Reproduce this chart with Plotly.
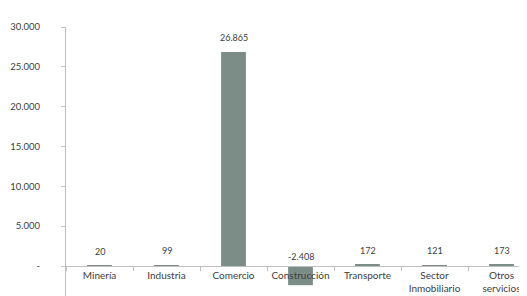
import plotly.graph_objects as go

categories = ["Minería", "Industria", "Comercio", "Construcción", "Transporte", "Sector<br>Inmobiliario", "Otros<br>servicios"]
values = [20, 99, 26865, -2408, 172, 121, 173]
value_labels = ["20", "99", "26.865", "-2.408", "172", "121", "173"]
y_tickvals = [-5000, 0, 5000, 10000, 15000, 20000, 25000, 30000]
y_ticktext = ["-5.000", "-", "5.000", "10.000", "15.000", "20.000", "25.000", "30.000"]

FONT = "Lato, Open Sans, sans-serif"
ymin, ymax = -4770, 30000
zero_pos = (0 - ymin) / (ymax - ymin)

fig = go.Figure()
fig.add_trace(go.Bar(x=categories, y=values, marker_color="#7b8d86",
                     marker_line_width=0, width=0.37))

for c, v, t in zip(categories, values, value_labels):
    fig.add_annotation(x=c, y=max(v, 0), text=t, showarrow=False,
                       yanchor="bottom", yshift=7 if v >= 0 else 2,
                       font=dict(family=FONT, size=9, color="#404040"))

fig.update_layout(
    width=527, height=296,
    margin=dict(l=58, r=0, t=19, b=0),
    paper_bgcolor="white", plot_bgcolor="white",
    showlegend=False,
    font=dict(family=FONT, size=9, color="#404040"),
    xaxis=dict(anchor="free", position=zero_pos, showline=True,
               linecolor="#bfbfbf", linewidth=1, ticks="outside",
               tickson="boundaries", ticklen=4, tickcolor="#bfbfbf",
               tickangle=0, automargin=False,
               showgrid=False, tickfont=dict(family=FONT, size=10, color="#404040")),
    yaxis=dict(range=[ymin, ymax], tickvals=y_tickvals, ticktext=y_ticktext,
               showline=True, linecolor="#bfbfbf", linewidth=1,
               ticks="outside", ticklen=4, tickcolor="#bfbfbf",
               ticklabelstandoff=19, automargin=False,
               showgrid=False, zeroline=False,
               tickfont=dict(family=FONT, size=9.5, color="#404040")),
)

fig.write_html("out.html")
